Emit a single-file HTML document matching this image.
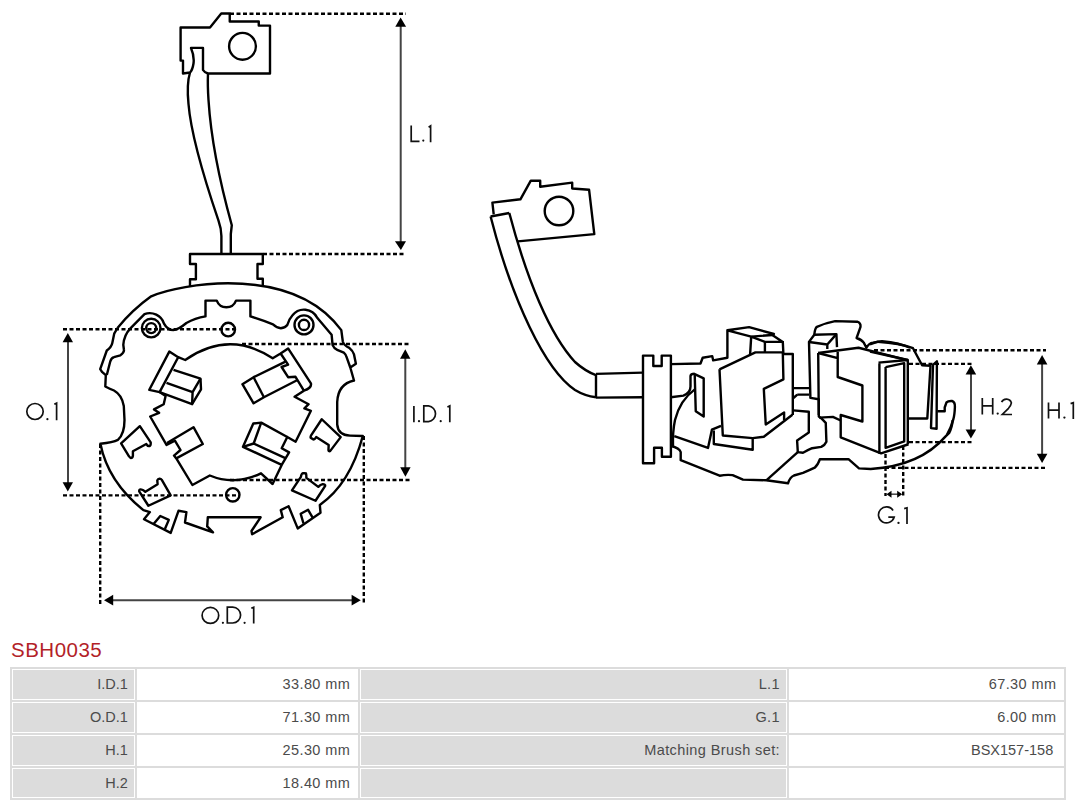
<!DOCTYPE html>
<html><head><meta charset="utf-8">
<style>
html,body{margin:0;padding:0;background:#fff;}
body{width:1080px;height:806px;position:relative;overflow:hidden;font-family:"Liberation Sans",sans-serif;}
#draw{position:absolute;left:0;top:0;}
.title{position:absolute;left:11px;top:638px;font-size:20.5px;letter-spacing:0.5px;color:#b31f29;line-height:24px;white-space:nowrap;}
.hl{position:absolute;height:2px;background:#dcdcdc;}
.vl{position:absolute;width:2px;background:#dcdcdc;}
.lab{position:absolute;background:#dcdcdc;}
.v,.m{letter-spacing:0.4px;margin-right:-0.4px;}
.t{position:absolute;font-size:14.5px;color:#4b4b4b;line-height:17px;white-space:nowrap;text-align:right;}
</style></head><body>
<svg id="draw" width="1080" height="640" viewBox="0 0 1080 640">

<g id="left" fill="none" stroke="#000" stroke-width="2.4" stroke-linejoin="round">
  <!-- terminal -->
  <path d="M180.6 27.5H210L221.25 13.5H229.75V21.5H258.75V25.6H270V73.5H208Q204.5 72.5 203 70V47.9H191Q194.5 56 193.5 63.5Q192.5 70 190 72.5L183 73.5V60.6H180.6Z"/>
  <circle cx="242.5" cy="46.3" r="13.4"/>
  <!-- wire -->
  <path d="M190 72.5Q186.5 84 188.5 104C191 135 204 178 218.5 220.7Q221.4 229 221.4 236V254"/>
  <path d="M208 73.5Q207.5 85 208.5 100C211 140 222 190 231.8 225.2L230.8 234V254"/>
  <!-- connector block -->
  <path d="M190 286V279.2H195.9V264H190V254H262.8V264H257.5V278.7H262.8V285"/>
  <!-- outer contour -->
  <path d="M117.5 328Q132 310 151.2 296.3C168 289 200 283.3 228 283.3C276 283.3 316 296 341.3 330.1L342.8 341.5Q344 345.5 349.3 347.9Q353 351 354 354.4L355.9 363.8L350.3 367.5L354 380.5Q338 384 337.2 402V424.3Q338 435 350 435.6L362.8 436Q350 484 319.8 504.9L320.5 512.7L297.7 528.4L288.6 506.2L280.8 510.1L282.7 517.3L252.1 534.2L251.5 531L260.6 517.3H207.8L207.2 526.4L213 532.3L185 522.5L186.4 512.1L178.5 510.8L170.7 532.9L144 519.2L149.9 512.1L143.4 510.1Q108 482 100.4 443.8Q113 442.5 117.9 439.9Q124.5 434 124.5 420L123.8 406Q122 395 114 390.5Q109 388.5 105.3 386.5L105.8 375.2L102 371.9L100.2 369.1L106.8 350.5Q111.5 347 112.3 343L114.2 333.7L117.5 328"/>
  <path d="M153.8 523.8L160.3 516L168.8 519.9L164.9 529"/>
  <path d="M303.5 523.5L300.7 513.8L308.1 509.8L312.8 517.8"/>
  <!-- inner ring line -->
  <path d="M106.8 375L110.3 361.3Q111.5 357.5 113.9 357.2L120.3 355.4Q124.5 352 123.9 349.5L123.3 344.8Q124 335 130.4 328.3L144.5 314.1A15 15 0 0 1 164 323.6Q167.5 330 173.3 330.1Q178 330 186.4 323Q195 318 205.5 316.4V300.6H216.75A10.3 10.3 0 0 0 236 300.6H250.4V316.4Q262 320 273 324.3Q277 328 280.8 328.2Q285.5 327.5 287.3 325Q289 319 292.5 315.2A14.7 14.7 0 0 1 317.2 317.8L331.6 334.7L332.6 345.1Q334 348.5 337.2 349.8L343.8 352.6Q346 354.5 346.6 357.2L350.3 367.5"/>
  <!-- screws & holes -->
  <circle cx="151.2" cy="328.1" r="9.3"/>
  <circle cx="151.2" cy="328.1" r="5"/>
  <circle cx="304" cy="324.9" r="9.5"/>
  <circle cx="304" cy="324.9" r="5.1"/>
  <circle cx="228.2" cy="329.6" r="6.8"/>
  <circle cx="232.8" cy="494.8" r="6.7"/>
  <!-- hub contour -->
  <path d="M185.2 360Q229 329.6 272.7 358.2L280.6 353.5L288.1 348.4L310.9 383.3Q312 388 303.9 390.7L294.6 396.8L308.6 404.2L304.4 408.4L310.9 410.8L295.6 441.7L287.3 437L281.7 448.2L289.1 452.4L281.7 464.9L272.6 484L261 473.3Q235 486 209.8 475.5L192.4 485L176.3 458.4L174 455.6L180.5 450L174.9 440.7L166.5 444.9L150.2 416.5L159.1 412.8L154 409.4L163.7 404.2L165.6 395.9L159.6 392.1L149.3 389.8L169.3 351.6L178.2 357.2Z"/>
  <!-- UL holder -->
  <path d="M178.2 357.2L159.6 392.1L192.1 404.2L201 389.3L200.5 378.6L173.5 369.8"/>
  <path d="M166.5 382.8L192.6 392.1L200.5 378.6M192.6 392.1L192.1 404.2"/>
  <!-- UR holder -->
  <path d="M280.6 353.5L288.1 364.7L281.6 367L288.1 377.2L295.5 376.8L303.9 390.7"/>
  <path d="M285.5 361.7L253.6 377.2L242.4 384.2L253.6 403.3L263.9 397.3L297.5 380"/>
  <path d="M253.6 377.2L263.9 397.3"/>
  <!-- LL holder -->
  <path d="M167 443L193.5 427.2L202.8 444L176.3 458.4"/>
  <!-- LR holder -->
  <path d="M287.3 437L261.2 422.6L253.3 423.5L243 446.8L281.7 464.9"/>
  <path d="M261.2 422.6L253.7 443.5L243 446.8M253.7 443.5L285.9 458.4"/>
  <!-- small slots -->
  <path d="M121.1 443.45L139.85 426.15L150.7 442.3Q151 445.5 149.6 446Q147.5 446.5 146.3 444L132.9 451.3V455.7Q132.5 458 130.9 458Q129.8 457.8 129 456.3Z"/>
  <path d="M321.75 419.25L340.7 437.1L330.1 451.1Q328.5 451.5 328.45 450L328.7 444.9L316.2 437.1Q314.5 439.8 313.4 439.4L310.6 437.7Q310.5 436.5 311.1 435.45Z"/>
  <path d="M139.2 491.4Q139 489 141 489.4Q143.5 489.8 145.4 491.85L157.6 484.15L157.3 480.5Q158 478.5 159.5 478.6Q161 478.8 161.8 479.9L170.7 495.3L148.4 505.75Z"/>
  <path d="M291.95 490.3L300.9 476.9Q301.5 473.5 302.9 473.2Q305.5 473 305.9 473.2Q306.5 475 306.35 477.9L318.3 486.85Q320.5 484.5 322.7 484.1Q325.5 484.5 325.2 485.85L315.5 500.75Z"/>
</g>

<g id="right" fill="none" stroke="#000" stroke-width="2.4" stroke-linejoin="round">
  <!-- terminal -->
  <path d="M493.7 214.3L492.4 202.6L520.4 199.3L530.8 180.7H540.2V186.7L572.2 182.6V188.5L589.1 189.8L594.3 234.1L517.8 241.4"/>
  <circle cx="559" cy="211" r="14.3"/>
  <!-- wire -->
  <path d="M490.6 216.5L509.3 213"/>
  <path d="M490.6 216.5C512 300 545 370 575 390Q585 396 596 397.3"/>
  <path d="M509.3 213C527 280 550 335 575 362Q585 371 596 375.2"/>
  <path d="M596 373.9L642.9 372.6M596 397.6L642.9 397.3M596 373.9V397.6"/>
  <!-- plate -->
  <path d="M643 355.6H653.3V366H661.7V355.6H670.9V456.8H661.9V447.7H654.1V463.3H643Z"/>
  <!-- body left -->
  <path d="M670.9 364.1L700.5 363.5L702.7 357.7L712.2 356.1L713.2 360.4L727.4 357.7V330.3L749.1 327.1L773.9 334L772.3 335L751.2 336.6L727.4 330.3"/>
  <path d="M751.2 336.6L750.1 354.6M751.2 336.6L764.9 341.9H782.8L772.3 335M764.9 341.9V351.9M782.8 341.9L783.4 354H792.8V415"/>
  <path d="M670.9 397.3L683.4 395.6Q690.5 393 690.5 386.5V376Q690.8 373.8 694.7 373.8"/>
  <path d="M695.1 389.1Q680 400 675 420Q672.5 432 673 446"/>
  <path d="M694.7 374.1L703.7 378.3V416.5L695.75 411.25Z"/>
  <!-- big block 1 -->
  <path d="M719.5 369.3L755.4 352.4H782.8L783.4 379.3L763.8 388.8L765.75 424.5L784.1 412.4V420"/>
  <path d="M719.5 369.3L722.8 435.5L752.7 438.1L763.8 436.8L792.4 414.7"/>
  <path d="M674.3 436.2L708 447.9L711.9 429.7L721 425.8"/>
  <path d="M713.8 430.4V444L752.7 449.8V437.5"/>
  <!-- bottom contour -->
  <path d="M671 446Q679.4 448 680.7 452V460.2L719.6 475.7Q726 474.5 732.6 475.1L743 479.6L766.3 480.3L788 483.3Q790 477 793.9 475.5L803 472.9Q810 470 814.7 467.7Q818 465 819.9 459.2H848.5L859 468.4L870.7 469Q920 466 945.6 436.4L949.2 432.8Q952 428 952.7 420"/>
  <path d="M766.3 480.3L797.8 452.1"/>
  <!-- middle pieces -->
  <path d="M793.2 410.4L808.8 411.7V432.6L797.1 440.4L797.8 452.1L803 452.7Q808 450 812.1 448.2L821.2 446.9Q825 445 826.4 441.7L825.75 422.8L821.2 418.2L818.8 416.5V399.2L810.4 397.9L809 341.9L814.3 334.7L836.4 334.1L837 347.1"/>
  <path d="M809 342L827.3 344.5L836.4 334.1M827.3 344.5V349"/>
  <path d="M793.4 388.1H809M797.3 394.6H809M793.4 398L797.3 394.6"/>
  <path d="M814.3 334.7Q815 328 816.9 326.9Q825 323 835.1 321.1L857.2 321.7Q861 323 860.5 326.9L856.6 338Q862 340 863.75 342.6L866.4 347.75Q869 343 872.9 342.6L882 341.25Q900 343 910 347.75"/>
  <!-- big block 2 -->
  <path d="M818.2 353L858.5 347.75L907.4 360.1M818.2 353L818.8 415"/>
  <path d="M818.2 353L837.7 358.2M837.7 351.7V377L862.4 385.5V421.5L840.7 415V437.3L881.1 453.4L908.5 444.25"/>
  <path d="M819.2 417.6L832.9 416.9L840.7 420.5"/>
  <path d="M870 351.5L907.8 360"/>
  <!-- brush right -->
  <path d="M879.4 363.4V453.8M885.6 367.1V447.8L904.2 441.4V363.2L885.6 367.1M878.5 362.6L907.8 360V444.2"/>
  <!-- blob right -->
  <path d="M870 344.3L877.8 341.7Q900 343 913 348.2L922.1 365.2L930.5 365.8L927.3 418.5H909"/>
  <path d="M933 364.8L936.9 361.3L936.6 428.7L931 428.1Z"/>
  <path d="M937.4 411.3H944.7V407.5L946.5 402.3Q948 400.8 952 401Q955.2 402 954.9 407Q954.6 415 953.3 419.4Q951 428 946.8 435"/>
</g>
<g id="dims" fill="none" stroke="#000" stroke-width="2">
  <g stroke-dasharray="4 2.5" stroke-width="2.4">
    <path d="M230 13.8H406"/>
    <path d="M263 254H406"/>
    <path d="M63 329.2H234"/>
    <path d="M63 495.4H239"/>
    <path d="M242 344H410"/>
    <path d="M230 480H410"/>
    <path d="M100.2 444V605"/>
    <path d="M363.8 436V605"/>
    <path d="M874 350.2H1046"/>
    <path d="M909 363.9H973"/>
    <path d="M909 442.1H973"/>
    <path d="M885 467.9H1046"/>
    <path d="M885.5 454V496"/>
    <path d="M903.2 446V496"/>
  </g>
  <g stroke="#444" stroke-width="2">
    <path d="M400.7 24V244"/>
    <path d="M68 340V485"/>
    <path d="M405.3 356V470"/>
    <path d="M111 600.2H353"/>
    <path d="M971 372V432"/>
    <path d="M1042.1 362V456"/>
    <path d="M888 494.2H901" stroke-width="1.5"/>
  </g>
</g>
<g id="arrows" fill="#000" stroke="none">
  <path d="M400.6 17.5L395.3 26.8H406.1Z"/>
  <path d="M400.9 250L394.9 241.3H406Z"/>
  <path d="M67.8 333L62.6 342.3H73Z"/>
  <path d="M67.8 491.5L62.6 482.2H73Z"/>
  <path d="M405.3 349.3L400 358.8H410.4Z"/>
  <path d="M405.4 476.8L400.2 467.3H410.6Z"/>
  <path d="M104 600.2L113.2 594.8V605.6Z"/>
  <path d="M360.8 600.2L351.6 594.8V605.6Z"/>
  <path d="M970.9 365.2L965.6 374.4H976.2Z"/>
  <path d="M970.9 438.6L965.6 429.4H976.2Z"/>
  <path d="M1042.1 355.1L1036.8 364.4H1047.4Z"/>
  <path d="M1042.1 463L1036.8 453.7H1047.4Z"/>
  <path d="M886.5 494.2L891.5 490.7V497.7Z"/>
  <path d="M902.2 494.2L897.2 490.7V497.7Z"/>
</g>
<g id="labels" fill="none" stroke="#111" stroke-width="1.7" stroke-linecap="butt">
  <!-- L.1 -->
  <path d="M411.2 125.5V141.3H419.5"/>
  <circle cx="423.3" cy="140.6" r="1.1" fill="#111" stroke="none"/>
  <path d="M428.6 127.2L430.6 125.9V142.2"/>
  <!-- O.1 -->
  <ellipse cx="35" cy="411.5" rx="8.2" ry="8"/>
  <circle cx="47.4" cy="419.2" r="1.1" fill="#111" stroke="none"/>
  <path d="M54.3 404.3L56.6 403.2V420.2"/>
  <!-- I.D.1 -->
  <path d="M413.9 405.9V422.2"/>
  <circle cx="419" cy="421.2" r="1.1" fill="#111" stroke="none"/>
  <path d="M423.8 405.9V421.6H428.5A7.9 7.9 0 0 0 428.5 405.9Z"/>
  <circle cx="440.7" cy="421.2" r="1.1" fill="#111" stroke="none"/>
  <path d="M447.4 407L449.8 405.9V422.2"/>
  <!-- O.D.1 -->
  <ellipse cx="210.4" cy="615.4" rx="8.3" ry="8"/>
  <circle cx="222.9" cy="622.8" r="1.1" fill="#111" stroke="none"/>
  <path d="M227.3 607.2V623H232.7A7.9 7.9 0 0 0 232.7 607.2Z"/>
  <circle cx="244.6" cy="622.8" r="1.1" fill="#111" stroke="none"/>
  <path d="M251.3 608.3L253.7 607.2V623.6"/>
  <!-- H.2 -->
  <path d="M982.3 397.9V414.6M992.7 397.9V414.6M982.3 405.8H992.7"/>
  <circle cx="997.7" cy="413.6" r="1.15" fill="#111" stroke="none"/>
  <path d="M1001.6 402.2A5.2 5.2 0 0 1 1011.4 402.9Q1011 405.5 1008.5 408.3L1002.3 414.5H1012"/>
  <!-- H.1 -->
  <path d="M1048.5 402.5V418.6M1059 402.5V418.6M1048.5 410.1H1059"/>
  <circle cx="1064.4" cy="417.6" r="1.15" fill="#111" stroke="none"/>
  <path d="M1070.6 403.6L1073.3 402.6V419"/>
  <!-- G.1 -->
  <path d="M893.1 510.4A8 8 0 1 0 894.2 517.1H888.3"/>
  <circle cx="898.5" cy="522.9" r="1.15" fill="#111" stroke="none"/>
  <path d="M904.2 508.6L907 507.8V524.1"/>
</g>
</svg>
<div class="title">SBH0035</div>
<div class="hl" style="left:10px;top:667px;width:1056px"></div>
<div class="hl" style="left:10px;top:700px;width:1056px"></div>
<div class="hl" style="left:10px;top:733px;width:1056px"></div>
<div class="hl" style="left:10px;top:766px;width:1056px"></div>
<div class="hl" style="left:10px;top:798px;width:1056px"></div>
<div class="vl" style="left:10px;top:667px;height:133px"></div>
<div class="vl" style="left:135px;top:667px;height:133px"></div>
<div class="vl" style="left:358px;top:667px;height:133px"></div>
<div class="vl" style="left:787px;top:667px;height:133px"></div>
<div class="vl" style="left:1064px;top:667px;height:133px"></div>
<div class="lab" style="left:13px;top:670px;width:121px;height:29px"></div>
<div class="lab" style="left:361px;top:670px;width:425px;height:29px"></div>
<div class="lab" style="left:13px;top:703px;width:121px;height:29px"></div>
<div class="lab" style="left:361px;top:703px;width:425px;height:29px"></div>
<div class="lab" style="left:13px;top:736px;width:121px;height:29px"></div>
<div class="lab" style="left:361px;top:736px;width:425px;height:29px"></div>
<div class="lab" style="left:13px;top:769px;width:121px;height:28px"></div>
<div class="lab" style="left:361px;top:769px;width:425px;height:28px"></div>
<div class="t" style="right:952.2px;top:676.4px">I.D.1</div>
<div class="t v" style="right:730.2px;top:676.4px">33.80 mm</div>
<div class="t m" style="right:300.4px;top:676.4px">L.1</div>
<div class="t v" style="right:24px;top:676.4px">67.30 mm</div>
<div class="t" style="right:952.2px;top:709.15px">O.D.1</div>
<div class="t v" style="right:730.2px;top:709.15px">71.30 mm</div>
<div class="t m" style="right:300.4px;top:709.15px">G.1</div>
<div class="t v" style="right:24px;top:709.15px">6.00 mm</div>
<div class="t" style="right:952.2px;top:741.9px">H.1</div>
<div class="t v" style="right:730.2px;top:741.9px">25.30 mm</div>
<div class="t m" style="right:300.4px;top:741.9px">Matching Brush set:</div>
<div class="t" style="right:26.8px;top:741.9px">BSX157-158</div>
<div class="t" style="right:952.2px;top:774.65px">H.2</div>
<div class="t v" style="right:730.2px;top:774.65px">18.40 mm</div>
</body></html>
